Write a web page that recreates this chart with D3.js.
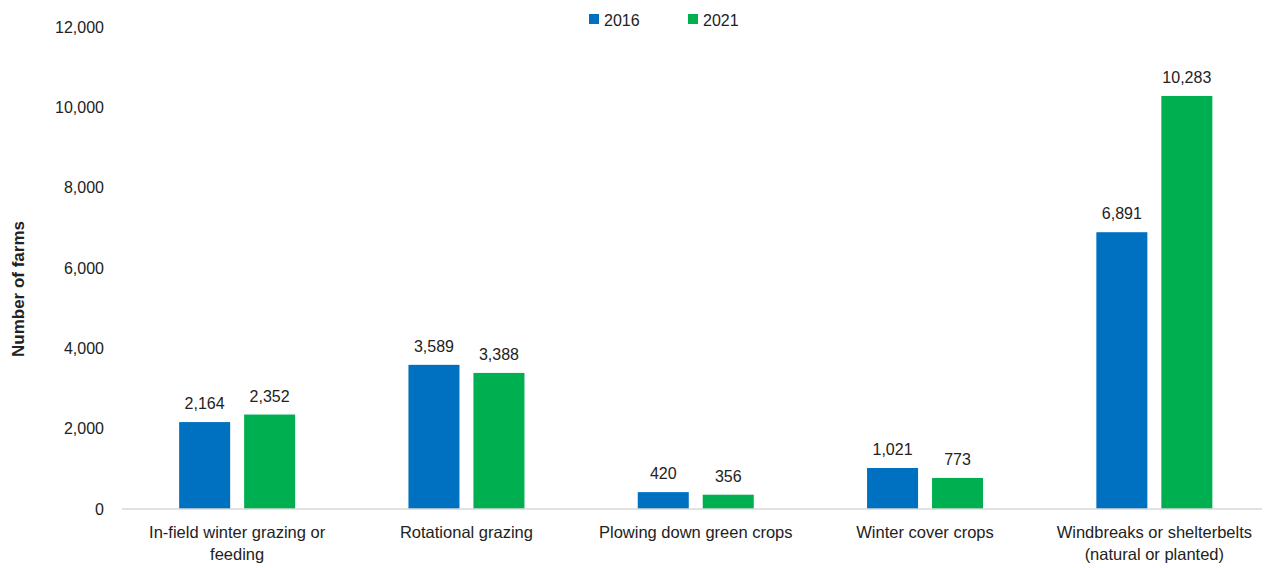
<!DOCTYPE html>
<html>
<head>
<meta charset="utf-8">
<script src="https://cdn.jsdelivr.net/npm/d3@7"></script>
<style>
  body { margin: 0; background: #fff; }
  text { font-family: "Liberation Sans", Arial, sans-serif; fill: #222; }
</style>
</head>
<body>
<svg id="chart"></svg>
<script>
const width = 1268, height = 568;

// data
const categories = [
    ["In-field winter grazing or", "feeding"],
    ["Rotational grazing"],
    ["Plowing down green crops"],
    ["Winter cover crops"],
    ["Windbreaks or shelterbelts", "(natural or planted)"]
];
const seriesNames = ["2016", "2021"];
const values2016 = [2164, 3589, 420, 1021, 6891];
const values2021 = [2352, 3388, 356, 773, 10283];
const yTicks = [0, 2000, 4000, 6000, 8000, 10000, 12000];
const colors = ["#0070C0", "#00B050"];

const svg = d3.select("#chart")
    .attr("width", width)
    .attr("height", height);

// scales
const x0 = d3.scaleBand()
    .domain(d3.range(categories.length))
    .range([122.5, 1269]);

const x1 = d3.scaleBand()
    .domain(seriesNames)
    .range([0, 116])
    .paddingInner(0.215);

const y = d3.scaleLinear()
    .domain([0, 12000])
    .range([509, 27]);

const fmt = d3.format(",");

// y axis tick labels (no axis line in reference)
svg.append("g")
    .selectAll("text")
    .data(yTicks)
    .join("text")
    .attr("x", 104)
    .attr("y", d => y(d))
    .attr("dy", "0.35em")
    .attr("text-anchor", "end")
    .style("font-size", "16px")
    .text(d => fmt(d));

// y axis title
svg.append("text")
    .attr("transform", "translate(24,289) rotate(-90)")
    .attr("text-anchor", "middle")
    .style("font-size", "17px")
    .style("font-weight", "bold")
    .text("Number of farms");

// bars
const rows = categories.map((c, i) => ({
    i: i,
    vals: [values2016[i], values2021[i]]
}));

const groups = svg.append("g")
    .selectAll("g")
    .data(rows)
    .join("g")
    .attr("transform", d => `translate(${x0(d.i) + (x0.bandwidth() - 116) / 2},0)`);

groups.selectAll("rect")
    .data(d => d.vals.map((v, k) => ({ key: seriesNames[k], v: v, k: k })))
    .join("rect")
    .attr("x", d => x1(d.key))
    .attr("y", d => y(d.v))
    .attr("width", x1.bandwidth())
    .attr("height", d => y(0) - y(d.v))
    .attr("fill", d => colors[d.k]);

groups.selectAll("text.val")
    .data(d => d.vals.map((v, k) => ({ key: seriesNames[k], v: v })))
    .join("text")
    .attr("class", "val")
    .attr("x", d => x1(d.key) + x1.bandwidth() / 2)
    .attr("y", d => y(d.v) - 13)
    .attr("text-anchor", "middle")
    .style("font-size", "16px")
    .text(d => fmt(d.v));

// x axis line
svg.append("line")
    .attr("x1", 122)
    .attr("x2", 1262)
    .attr("y1", y(0))
    .attr("y2", y(0))
    .attr("stroke", "#d9d9d9")
    .attr("stroke-width", 1.5);

// category labels
const catLabels = svg.append("g")
    .selectAll("text")
    .data(categories)
    .join("text")
    .attr("x", (d, i) => x0(i) + x0.bandwidth() / 2)
    .attr("y", 538)
    .attr("text-anchor", "middle")
    .style("font-size", "16.5px");

catLabels.selectAll("tspan")
    .data(d => d)
    .join("tspan")
    .attr("x", function() { return d3.select(this.parentNode).attr("x"); })
    .attr("dy", (d, i) => i === 0 ? 0 : 22)
    .text(d => d);

// legend
const legendX = [589, 688];
const legend = svg.append("g")
    .selectAll("g")
    .data(seriesNames)
    .join("g")
    .attr("transform", (d, i) => `translate(${legendX[i]},14)`);

legend.append("rect")
    .attr("width", 10)
    .attr("height", 10)
    .attr("fill", (d, i) => colors[i]);

legend.append("text")
    .attr("x", 15)
    .attr("y", 12)
    .style("font-size", "16px")
    .text(d => d);
</script>
</body>
</html>
